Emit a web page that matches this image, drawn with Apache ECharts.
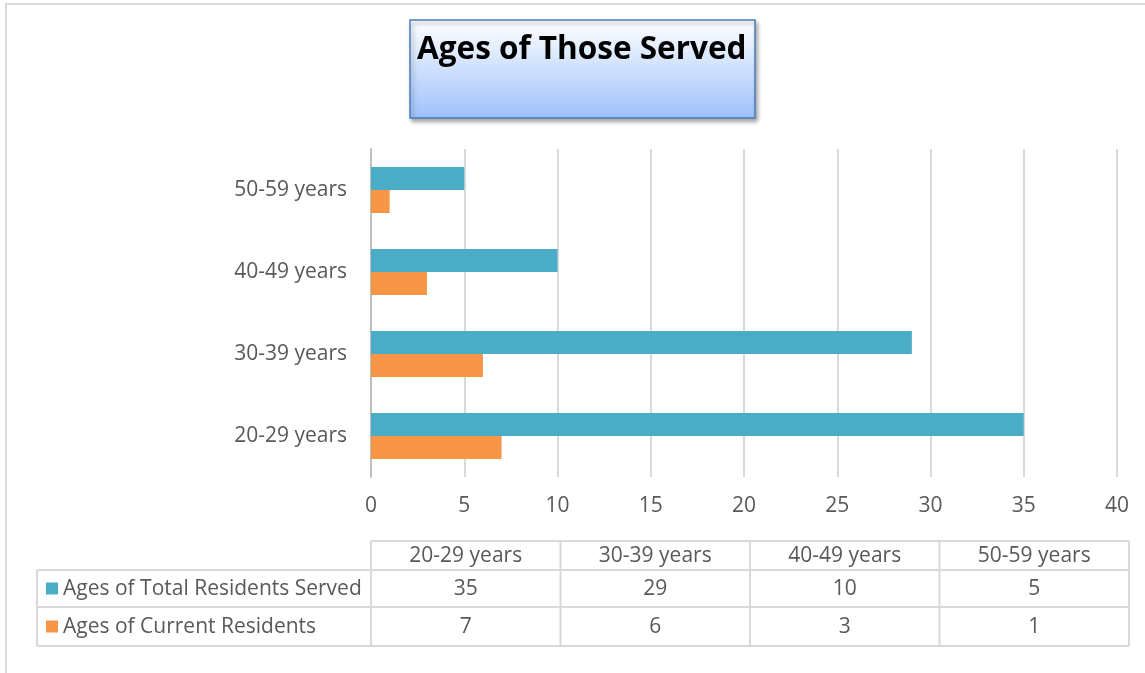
<!DOCTYPE html>
<html><head><meta charset="utf-8">
<script src="https://cdn.jsdelivr.net/npm/echarts@6/dist/echarts.min.js"></script>
<style>html,body{margin:0;padding:0;background:#fff}#c{width:1145px;height:673px}</style>
</head><body><div id="c"></div>
<script>
const categories = ['20-29 years', '30-39 years', '40-49 years', '50-59 years'];
const seriesNames = ['Ages of Total Residents Served', 'Ages of Current Residents'];
const totalServed = [35, 29, 10, 5];
const currentResidents = [7, 6, 3, 1];
const titleText = 'Ages of Those Served';

const FONT = '"Open Sans", "Noto Sans", sans-serif';
const FS = 21;
const TXT = '#595959';
const LINE = '#d9d9d9';
const colors = ['#4BACC6', '#F79646'];
const seriesData = [totalServed, currentResidents];

const chart = echarts.init(document.getElementById('c'), null, {renderer: 'canvas'});

// data table built from the arrays
const tbl = [];
const colX0 = 371, colX1 = 1129, leftX = 37;
const rowY = [541, 570, 607, 646];
const colW = (colX1 - colX0) / categories.length;
const ls = {stroke: LINE, lineWidth: 2};
tbl.push({type: 'line', shape: {x1: colX0, y1: rowY[0], x2: colX1, y2: rowY[0]}, style: ls});
for (let r = 1; r < rowY.length; r++) {
  tbl.push({type: 'line', shape: {x1: leftX, y1: rowY[r], x2: colX1, y2: rowY[r]}, style: ls});
}
tbl.push({type: 'line', shape: {x1: leftX, y1: rowY[1], x2: leftX, y2: rowY[3]}, style: ls});
for (let c = 0; c <= categories.length; c++) {
  const x = colX0 + c * colW;
  tbl.push({type: 'line', shape: {x1: x, y1: rowY[0], x2: x, y2: rowY[3]}, style: ls});
}
const font = FS + 'px ' + FONT;
categories.forEach((cat, i) => {
  tbl.push({type: 'text', x: colX0 + (i + 0.5) * colW, y: (rowY[0] + rowY[1]) / 2 + 1,
    style: {text: cat, fill: TXT, font: font, textAlign: 'center', textVerticalAlign: 'middle'}});
});
seriesNames.forEach((nm, s) => {
  const yc = (rowY[s + 1] + rowY[s + 2]) / 2;
  tbl.push({type: 'rect', shape: {x: 46, y: yc - 6, width: 12, height: 12}, style: {fill: colors[s]}});
  tbl.push({type: 'text', x: 63, y: yc + 1, style: {text: nm, fill: TXT, font: font, textAlign: 'left', textVerticalAlign: 'middle'}});
  seriesData[s].forEach((v, i) => {
    tbl.push({type: 'text', x: colX0 + (i + 0.5) * colW, y: yc + 1,
      style: {text: String(v), fill: TXT, font: font, textAlign: 'center', textVerticalAlign: 'middle'}});
  });
});

const option = {
  backgroundColor: '#fff',
  animation: false,
  title: {
    text: titleText, left: 417, top: 34, padding: 0,
    textStyle: {fontFamily: FONT, fontSize: 31.5, fontWeight: 'bold', color: '#000'}
  },
  grid: {left: 371, right: 28, top: 149, bottom: 196, containLabel: false},
  xAxis: {
    type: 'value', min: 0, max: 40, interval: 5,
    axisLine: {show: false}, axisTick: {show: false},
    axisLabel: {color: TXT, fontSize: FS, fontFamily: FONT, margin: 19},
    splitLine: {lineStyle: {color: LINE, width: 2}}
  },
  yAxis: {
    type: 'category', data: categories,
    axisLine: {lineStyle: {color: '#bfbfbf', width: 2}}, axisTick: {show: false},
    axisLabel: {color: TXT, fontSize: FS, fontFamily: FONT, margin: 24}
  },
  series: [
    {name: seriesNames[0], type: 'bar', data: totalServed, barWidth: 23, barGap: '0%', itemStyle: {color: colors[0]}, z: 3},
    {name: seriesNames[1], type: 'bar', data: currentResidents, barWidth: 23, barGap: '0%', itemStyle: {color: colors[1]}, z: 3}
  ],
  graphic: [
    {type: 'rect', shape: {x: 6, y: 4, width: 1150, height: 700}, style: {fill: 'none', stroke: LINE, lineWidth: 2}, z: -10, silent: true},
    {type: 'rect', shape: {x: 410, y: 20, width: 345, height: 98},
      style: {fill: new echarts.graphic.LinearGradient(0, 0, 0, 1, [{offset: 0, color: '#ffffff'}, {offset: 1, color: '#9dc1fb'}]),
        stroke: '#4a7ebb', lineWidth: 1.5, shadowBlur: 4, shadowOffsetX: 2, shadowOffsetY: 3, shadowColor: 'rgba(0,0,0,0.35)'}, z: -5},
    {type: 'group', children: tbl}
  ]
};
chart.setOption(option);
</script></body></html>
